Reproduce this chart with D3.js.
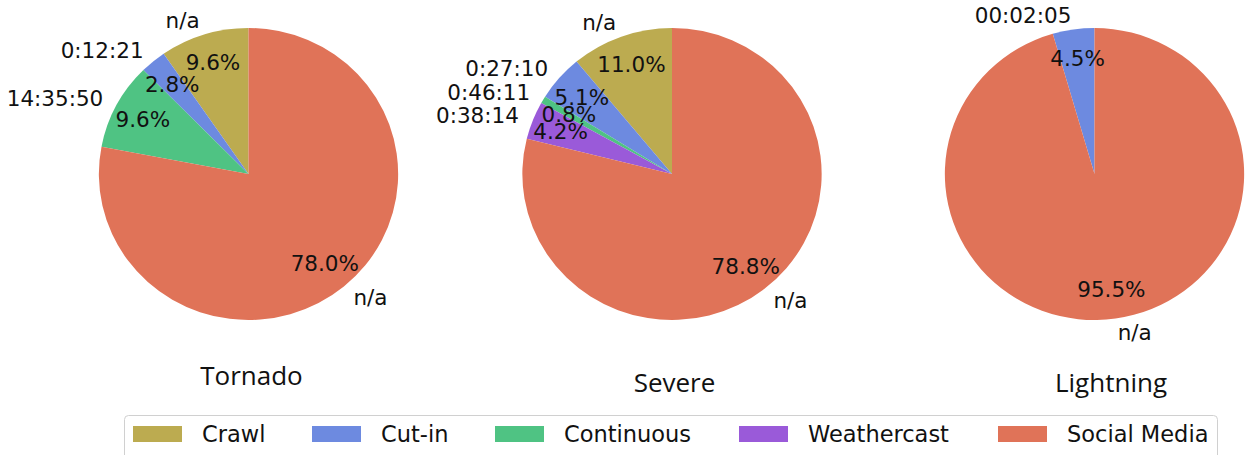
<!DOCTYPE html>
<html><head><meta charset="utf-8">
<script src="https://cdn.jsdelivr.net/npm/d3@7"></script>
<style>body{margin:0;background:#fff}svg{display:block}</style>
</head><body>
<svg id="c" width="1246" height="455"></svg>
<script>
const categories = ["Crawl", "Cut-in", "Continuous", "Weathercast", "Social Media"];
const colors = ["#bcab50", "#6d8ae0", "#4fc383", "#9a5ad9", "#e07358"];
const panels = ["Tornado", "Severe", "Lightning"];
const tornadoValues = [9.6, 2.8, 9.6, 0, 78.0];
const severeValues = [11.0, 5.1, 0.8, 4.2, 78.8];
const lightningValues = [0, 4.5, 0, 0, 95.5];
const tornadoLabels = ["n/a", "0:12:21", "14:35:50", "", "n/a"];
const severeLabels = ["n/a", "0:27:10", "0:46:11", "0:38:14", "n/a"];
const lightningLabels = ["", "00:02:05", "", "", "n/a"];

const svg = d3.select("#c");
const R = 146, SX = 1.025;
const layout = [
  {cx: 248.5, cy: 174, tx: 251.5, ty: 385, values: tornadoValues, labels: tornadoLabels},
  {cx: 672, cy: 174, tx: 674.5, ty: 392, values: severeValues, labels: severeLabels},
  {cx: 1094.5, cy: 174, tx: 1111, ty: 392, values: lightningValues, labels: lightningLabels}
];

const pie = d3.pie().sort(null).startAngle(0).endAngle(-2 * Math.PI);
const arc = d3.arc().innerRadius(0).outerRadius(R);

layout.forEach((p, pi) => {
  const data = categories.map((c, i) => ({cat: c, i, v: p.values[i], label: p.labels[i]}));
  const arcs = pie.value(d => d.v)(data);
  const g = svg.append("g").attr("transform", `translate(${p.cx},${p.cy}) scale(${SX},1)`);
  g.selectAll("path").data(arcs.filter(a => a.data.v > 0)).join("path")
    .attr("d", arc).attr("fill", d => colors[d.data.i]);
  const tg = svg.append("g").attr("transform", `translate(${p.cx},${p.cy})`);
  arcs.filter(a => a.data.v > 0).forEach(a => {
    const mid = (a.startAngle + a.endAngle) / 2;
    const sx = Math.sin(mid), cy = -Math.cos(mid);
    tg.append("text")
      .attr("x", 0.8 * R * sx * SX).attr("y", 0.8 * R * cy)
      .attr("text-anchor", "middle").attr("dominant-baseline", "central")
      .attr("font-family", "DejaVu Sans").attr("font-size", 21.5).attr("fill", "#111")
      .text(d3.format(".1f")(a.data.v) + "%");
    if (a.data.label) {
      tg.append("text")
        .attr("x", 1.1 * R * sx * SX).attr("y", 1.1 * R * cy)
        .attr("text-anchor", sx >= 0 ? "start" : "end").attr("dominant-baseline", "central")
        .attr("font-family", "DejaVu Sans").attr("font-size", 21.5).attr("fill", "#111")
        .text(a.data.label);
    }
  });
  svg.append("text").attr("x", p.tx).attr("y", p.ty).attr("text-anchor", "middle")
    .attr("font-family", "Open Sans").attr("font-size", 26).attr("fill", "#111")
    .text(panels[pi]);
});

// legend
const leg = svg.append("g");
leg.append("rect").attr("x", 124.5).attr("y", 415.5).attr("width", 1093).attr("height", 60)
  .attr("rx", 4).attr("fill", "#fff").attr("stroke", "#d0d0d0").attr("stroke-width", 1);
const legX = d3.scaleOrdinal().domain(categories).range([133, 312, 495, 739, 998]);
categories.forEach((c, i) => {
  leg.append("rect").attr("x", legX(c)).attr("y", 426).attr("width", 49).attr("height", 16)
    .attr("fill", colors[i]);
  leg.append("text").attr("x", legX(c) + 69).attr("y", 434).attr("dominant-baseline", "central")
    .attr("font-family", "DejaVu Sans").attr("font-size", 22.5).attr("fill", "#111").text(c);
});
</script>
</body></html>
